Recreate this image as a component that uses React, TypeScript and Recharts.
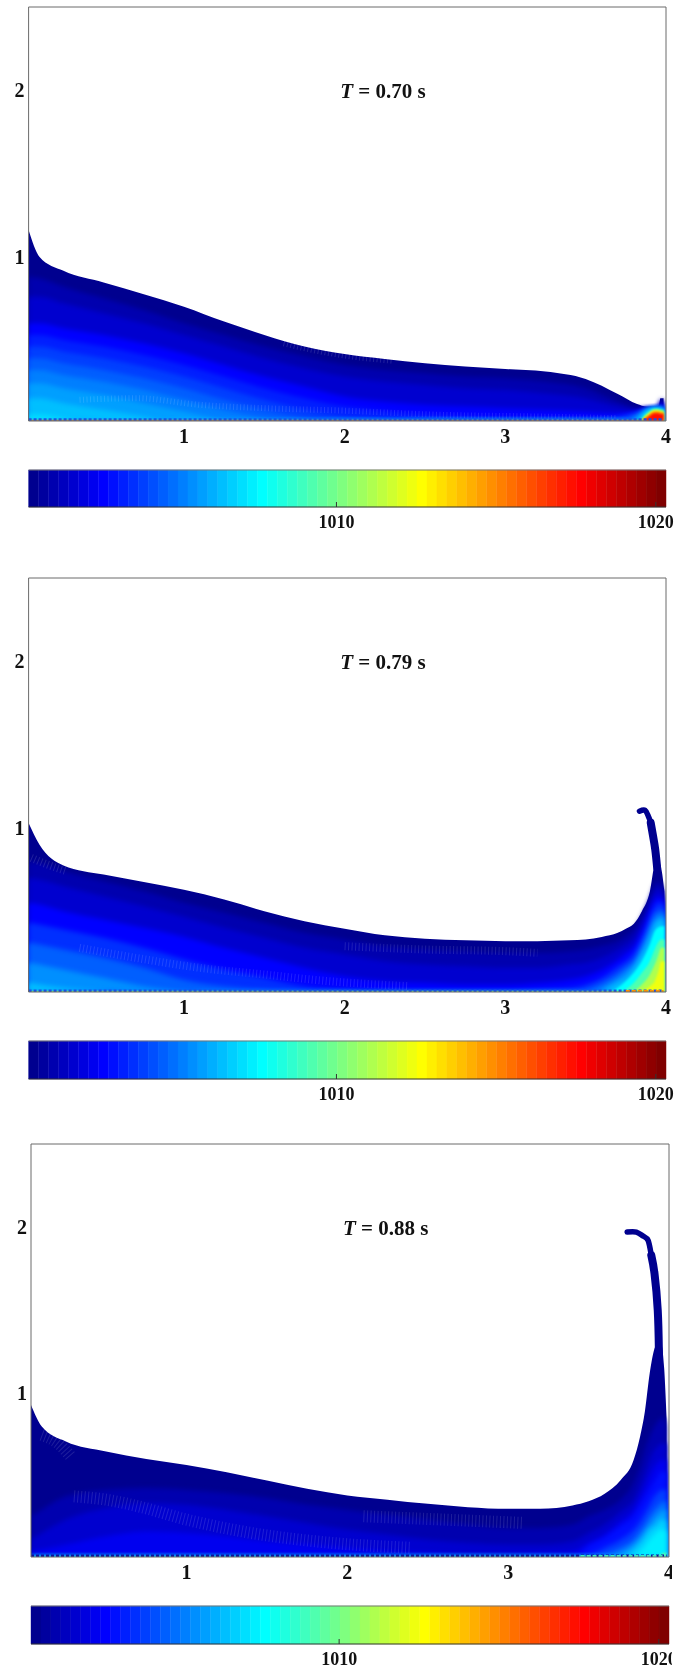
import React from 'react'
import {
  BarChart,
  Bar,
  Cell,
  ComposedChart,
  Area,
  Line,
  XAxis,
  YAxis,
  ReferenceDot,
} from 'recharts'

// jet(64) palette, one colour per colourbar band
const jetColors = [
  '#00008F', '#00009F', '#0000AF', '#0000BF', '#0000CF', '#0000DF', '#0000EF', '#0000FF',
  '#000FFF', '#001FFF', '#002FFF', '#003FFF', '#004FFF', '#005FFF', '#006FFF', '#007FFF',
  '#008FFF', '#009FFF', '#00AFFF', '#00BFFF', '#00CFFF', '#00DFFF', '#00EFFF', '#00FFFF',
  '#0FFFEF', '#1FFFDF', '#2FFFCF', '#3FFFBF', '#4FFFAF', '#5FFF9F', '#6FFF8F', '#7FFF7F',
  '#8FFF6F', '#9FFF5F', '#AFFF4F', '#BFFF3F', '#CFFF2F', '#DFFF1F', '#EFFF0F', '#FFFF00',
  '#FFEF00', '#FFDF00', '#FFCF00', '#FFBF00', '#FFAF00', '#FF9F00', '#FF8F00', '#FF7F00',
  '#FF6F00', '#FF5F00', '#FF4F00', '#FF3F00', '#FF2F00', '#FF1F00', '#FF0F00', '#FF0000',
  '#EF0000', '#DF0000', '#CF0000', '#BF0000', '#AF0000', '#9F0000', '#8F0000', '#800000',
]
const barDomain = [1000.36, 1020.32]
const barTicks = [1010, 1020]
const xTicks = [1, 2, 3, 4]
const xMinorTicks = [0.5, 1, 1.5, 2, 2.5, 3, 3.5]
const yTicks = [1, 2]
const yMinorTicks = [0.5, 1, 1.5, 2]

// T = 0.70 s
const xA = [0.033, 0.1, 0.25, 0.5, 0.75, 1, 1.25, 1.5, 1.75, 2, 2.25, 2.5, 2.75, 3, 3.25, 3.5, 3.7, 3.82, 3.88, 3.93, 3.955, 3.965, 3.985]
const topA = [1.16, 1.0, 0.915, 0.845, 0.775, 0.7, 0.61, 0.53, 0.46, 0.415, 0.385, 0.36, 0.34, 0.325, 0.31, 0.265, 0.175, 0.115, 0.1, 0.1, 0.105, 0.15, 0.15]
const levelsA: [number, number[]][] = [
  [2, [0.88, 0.87, 0.82, 0.75, 0.68, 0.6, 0.53, 0.46, 0.4, 0.35, 0.32, 0.3, 0.28, 0.27, 0.25, 0.21, 0.13, 0.09, 0.09, 0.09, 0.1, 0.14, 0.14]],
  [4, [0.76, 0.76, 0.72, 0.66, 0.6, 0.53, 0.46, 0.39, 0.33, 0.28, 0.25, 0.23, 0.21, 0.2, 0.18, 0.15, 0.1, 0.08, 0.09, 0.09, 0.1, 0.13, 0.13]],
  [7, [0.6, 0.6, 0.57, 0.53, 0.48, 0.42, 0.35, 0.28, 0.22, 0.16, 0.13, 0.11, 0.1, 0.09, 0.08, 0.07, 0.06, 0.07, 0.085, 0.09, 0.095, 0.11, 0.11]],
  [9, [0.53, 0.53, 0.5, 0.46, 0.41, 0.35, 0.28, 0.21, 0.15, 0.1, 0.07, 0.05, 0.04, 0.03, 0.03, 0.03, 0.04, 0.065, 0.085, 0.09, 0.09, 0.1, 0.1]],
  [11, [0.46, 0.46, 0.43, 0.39, 0.34, 0.28, 0.21, 0.14, 0.08, 0.04, 0.02, 0, 0, 0, 0, 0.01, 0.03, 0.06, 0.08, 0.09, 0.09, 0.09, 0.09]],
  [13, [0.39, 0.39, 0.36, 0.32, 0.27, 0.21, 0.14, 0.08, 0.03, 0, 0, 0, 0, 0, 0, 0, 0.01, 0.05, 0.08, 0.09, 0.09, 0.09, 0.09]],
  [15, [0.32, 0.32, 0.29, 0.25, 0.2, 0.14, 0.08, 0.03, 0, 0, 0, 0, 0, 0, 0, 0, 0, 0.04, 0.08, 0.09, 0.09, 0.09, 0.09]],
  [17, [0.24, 0.24, 0.21, 0.17, 0.12, 0.07, 0.02, 0, 0, 0, 0, 0, 0, 0, 0, 0, 0, 0.03, 0.075, 0.09, 0.09, 0.085, 0.085]],
  [19, [0.15, 0.15, 0.12, 0.08, 0.04, 0, 0, 0, 0, 0, 0, 0, 0, 0, 0, 0, 0, 0.02, 0.07, 0.085, 0.085, 0.08, 0.08]],
  [21, [0.05, 0.05, 0.03, 0, 0, 0, 0, 0, 0, 0, 0, 0, 0, 0, 0, 0, 0, 0.01, 0.065, 0.085, 0.085, 0.08, 0.08]],
  [26, [0, 0, 0, 0, 0, 0, 0, 0, 0, 0, 0, 0, 0, 0, 0, 0, 0, 0, 0.06, 0.085, 0.085, 0.08, 0.08]],
  [38, [0, 0, 0, 0, 0, 0, 0, 0, 0, 0, 0, 0, 0, 0, 0, 0, 0, 0, 0.05, 0.08, 0.08, 0.075, 0.075]],
  [46, [0, 0, 0, 0, 0, 0, 0, 0, 0, 0, 0, 0, 0, 0, 0, 0, 0, 0, 0.04, 0.07, 0.07, 0.065, 0.065]],
  [54, [0, 0, 0, 0, 0, 0, 0, 0, 0, 0, 0, 0, 0, 0, 0, 0, 0, 0, 0.03, 0.06, 0.06, 0.055, 0.055]],
]
const moireA = [
  [[0.35, 0.14], [0.7, 0.15], [1.1, 0.11], [1.5, 0.09], [2, 0.075], [2.6, 0.05], [3.2, 0.04], [3.7, 0.03]],
  [[1.62, 0.48], [1.8, 0.44], [2.05, 0.4], [2.3, 0.375]],
]

// T = 0.79 s
const xB = [0.033, 0.1, 0.25, 0.5, 0.75, 1, 1.25, 1.5, 1.75, 2, 2.25, 2.5, 2.75, 3, 3.2, 3.4, 3.5, 3.6, 3.7, 3.75, 3.8, 3.85, 3.9, 3.93, 3.95, 3.97, 3.99]
const topB = [1.03, 0.9, 0.775, 0.72, 0.675, 0.628, 0.57, 0.5, 0.44, 0.395, 0.355, 0.335, 0.325, 0.32, 0.32, 0.325, 0.33, 0.345, 0.37, 0.395, 0.425, 0.5, 0.62, 0.78, 0.8, 0.76, 0.62]
const levelsB: [number, number[]][] = [
  [2, [0.8, 0.79, 0.74, 0.68, 0.62, 0.55, 0.49, 0.43, 0.37, 0.33, 0.29, 0.27, 0.26, 0.25, 0.25, 0.26, 0.27, 0.29, 0.32, 0.35, 0.39, 0.47, 0.58, 0.66, 0.68, 0.66, 0.6]],
  [4, [0.7, 0.69, 0.65, 0.59, 0.53, 0.467, 0.4, 0.34, 0.28, 0.24, 0.2, 0.18, 0.17, 0.16, 0.16, 0.18, 0.19, 0.22, 0.27, 0.3, 0.34, 0.43, 0.54, 0.62, 0.64, 0.63, 0.58]],
  [7, [0.55, 0.54, 0.5, 0.45, 0.4, 0.347, 0.28, 0.22, 0.16, 0.11, 0.08, 0.07, 0.06, 0.06, 0.07, 0.09, 0.11, 0.15, 0.21, 0.25, 0.29, 0.38, 0.5, 0.57, 0.59, 0.58, 0.56]],
  [10, [0.43, 0.42, 0.39, 0.34, 0.28, 0.21, 0.15, 0.1, 0.05, 0.03, 0.02, 0.02, 0.02, 0.02, 0.03, 0.04, 0.06, 0.1, 0.17, 0.2, 0.25, 0.34, 0.46, 0.53, 0.55, 0.55, 0.54]],
  [13, [0.31, 0.3, 0.27, 0.22, 0.16, 0.087, 0.05, 0.03, 0.02, 0, 0, 0, 0, 0, 0, 0.01, 0.03, 0.07, 0.13, 0.17, 0.21, 0.3, 0.42, 0.49, 0.5, 0.51, 0.51]],
  [16, [0.19, 0.18, 0.15, 0.1, 0.05, 0.02, 0, 0, 0, 0, 0, 0, 0, 0, 0, 0, 0.01, 0.04, 0.1, 0.14, 0.18, 0.27, 0.38, 0.45, 0.47, 0.48, 0.48]],
  [19, [0.07, 0.06, 0.04, 0.02, 0, 0, 0, 0, 0, 0, 0, 0, 0, 0, 0, 0, 0, 0.02, 0.07, 0.1, 0.16, 0.24, 0.34, 0.42, 0.44, 0.45, 0.45]],
  [23, [0, 0, 0, 0, 0, 0, 0, 0, 0, 0, 0, 0, 0, 0, 0, 0, 0, 0, 0.04, 0.08, 0.13, 0.2, 0.3, 0.38, 0.4, 0.41, 0.41]],
  [28, [0, 0, 0, 0, 0, 0, 0, 0, 0, 0, 0, 0, 0, 0, 0, 0, 0, 0, 0, 0.03, 0.07, 0.13, 0.2, 0.27, 0.31, 0.33, 0.33]],
  [34, [0, 0, 0, 0, 0, 0, 0, 0, 0, 0, 0, 0, 0, 0, 0, 0, 0, 0, 0, 0, 0.02, 0.06, 0.12, 0.18, 0.23, 0.28, 0.28]],
  [38, [0, 0, 0, 0, 0, 0, 0, 0, 0, 0, 0, 0, 0, 0, 0, 0, 0, 0, 0, 0, 0, 0.02, 0.05, 0.08, 0.13, 0.2, 0.2]],
]
const hookB = [[3.835, 1.1], [3.87, 1.105], [3.89, 1.07], [3.905, 1.03], [3.92, 0.948]]
const stemB = [[3.905, 1.03], [3.92, 0.948], [3.933, 0.87], [3.945, 0.76]]
const moireB = [
  [[0.35, 0.28], [0.7, 0.22], [1.1, 0.16], [1.5, 0.12], [1.9, 0.08], [2.4, 0.05]],
  [[0.05, 0.82], [0.15, 0.78], [0.27, 0.74]],
  [[2, 0.29], [2.5, 0.27], [3, 0.26], [3.2, 0.25]],
]

// T = 0.88 s
const xC = [0.033, 0.1, 0.25, 0.5, 0.75, 1, 1.25, 1.5, 1.75, 2, 2.25, 2.5, 2.75, 3, 3.2, 3.4, 3.5, 3.6, 3.7, 3.78, 3.82, 3.85, 3.88, 3.91, 3.93, 3.95, 3.97, 3.985]
const topC = [0.93, 0.8, 0.71, 0.65, 0.605, 0.568, 0.525, 0.475, 0.425, 0.385, 0.36, 0.335, 0.315, 0.305, 0.305, 0.325, 0.35, 0.395, 0.478, 0.598, 0.738, 0.89, 1.12, 1.27, 1.3, 1.3, 1.15, 0.85]
const levelsC: [number, number[]][] = [
  [2, [0.26, 0.3, 0.38, 0.42, 0.43, 0.42, 0.4, 0.37, 0.33, 0.3, 0.27, 0.24, 0.21, 0.19, 0.19, 0.21, 0.26, 0.3, 0.36, 0.46, 0.56, 0.66, 0.74, 0.8, 0.83, 0.85, 0.85, 0.8]],
  [4, [0.12, 0.16, 0.24, 0.31, 0.34, 0.33, 0.3, 0.26, 0.22, 0.18, 0.15, 0.12, 0.1, 0.09, 0.09, 0.11, 0.16, 0.21, 0.29, 0.36, 0.44, 0.52, 0.6, 0.66, 0.68, 0.7, 0.7, 0.7]],
  [6, [0.05, 0.06, 0.09, 0.14, 0.17, 0.16, 0.14, 0.11, 0.09, 0.07, 0.05, 0.04, 0.03, 0.03, 0.04, 0.05, 0.1, 0.15, 0.23, 0.3, 0.37, 0.43, 0.5, 0.56, 0.58, 0.6, 0.6, 0.6]],
  [8, [0, 0, 0, 0.02, 0.03, 0.03, 0.02, 0, 0, 0, 0, 0, 0, 0, 0, 0, 0.08, 0.13, 0.2, 0.26, 0.32, 0.37, 0.42, 0.47, 0.5, 0.53, 0.53, 0.53]],
  [11, [0, 0, 0, 0, 0, 0, 0, 0, 0, 0, 0, 0, 0, 0, 0, 0, 0.02, 0.07, 0.12, 0.18, 0.23, 0.28, 0.33, 0.38, 0.4, 0.42, 0.42, 0.42]],
  [14, [0, 0, 0, 0, 0, 0, 0, 0, 0, 0, 0, 0, 0, 0, 0, 0, 0, 0.03, 0.07, 0.12, 0.17, 0.21, 0.26, 0.3, 0.32, 0.34, 0.35, 0.35]],
  [17, [0, 0, 0, 0, 0, 0, 0, 0, 0, 0, 0, 0, 0, 0, 0, 0, 0, 0, 0.04, 0.09, 0.13, 0.17, 0.21, 0.25, 0.27, 0.29, 0.3, 0.3]],
  [20, [0, 0, 0, 0, 0, 0, 0, 0, 0, 0, 0, 0, 0, 0, 0, 0, 0, 0, 0.01, 0.06, 0.1, 0.14, 0.18, 0.2, 0.22, 0.24, 0.24, 0.22]],
  [22, [0, 0, 0, 0, 0, 0, 0, 0, 0, 0, 0, 0, 0, 0, 0, 0, 0, 0, 0, 0.02, 0.05, 0.08, 0.12, 0.15, 0.17, 0.18, 0.18, 0.16]],
  [28, [0, 0, 0, 0, 0, 0, 0, 0, 0, 0, 0, 0, 0, 0, 0, 0, 0, 0, 0, 0, 0, 0, 0, 0, 0.02, 0.03, 0.04, 0.04]],
]
const hookC = [[3.74, 1.97], [3.797, 1.97], [3.84, 1.945], [3.87, 1.92], [3.89, 1.83], [3.91, 1.72]]
const stemC = [[3.89, 1.83], [3.91, 1.72], [3.93, 1.5], [3.937, 1.26], [3.94, 1.06]]
const moireC = [
  [[0.3, 0.38], [0.5, 0.36], [0.7, 0.32], [1, 0.24], [1.4, 0.16], [1.9, 0.1], [2.4, 0.07]],
  [[0.1, 0.75], [0.2, 0.7], [0.28, 0.62]],
  [[2.1, 0.26], [2.6, 0.24], [3.1, 0.22]],
]

const serif = '"Liberation Serif", "Times New Roman", serif'
const frameColor = '#6a6a6a'

function toPoints(pairs: number[][]) {
  return pairs.map(([x, y]) => ({ x, y }))
}

function PressureField({ title, xs, top, levels, hook, stem, moire, bedHot, bedColor, geo }: any) {
  const table = xs.map((x: number, i: number) => {
    const row: any = { x, top: top[i] }
    levels.forEach(([idx, values]: [number, number[]]) => {
      row['l' + idx] = values[i]
    })
    return row
  })
  const xDomain = [geo.xMin, 4]
  const yDomain = [geo.yMin, 2.5]
  return (
    <ComposedChart
      width={geo.clip}
      height={geo.bottom - geo.top + 37}
      data={table}
      margin={{ top: 0, right: geo.clip - 1 - geo.right, bottom: 0, left: 0 }}
    >
      <XAxis
        dataKey="x"
        type="number"
        domain={xDomain}
        ticks={xTicks}
        interval={0}
        allowDataOverflow
        height={36}
        tickLine={false}
        tickSize={0}
        tickMargin={8}
        stroke={frameColor}
        tick={{ fontFamily: serif, fontWeight: 700, fontSize: 20, fill: '#111' }}
      />
      <XAxis
        xAxisId="top"
        orientation="top"
        dataKey="x"
        type="number"
        domain={xDomain}
        ticks={xMinorTicks}
        interval={0}
        allowDataOverflow
        height={1}
        tick={false}
        tickSize={-5}
        stroke={frameColor}
      />
      <YAxis
        type="number"
        domain={yDomain}
        ticks={yTicks}
        interval={0}
        allowDataOverflow
        width={geo.left}
        tickLine={false}
        tickSize={0}
        tickMargin={4}
        stroke={frameColor}
        tick={{ fontFamily: serif, fontWeight: 700, fontSize: 20, fill: '#111' }}
      />
      <YAxis
        yAxisId="right"
        orientation="right"
        type="number"
        domain={yDomain}
        ticks={yMinorTicks}
        interval={0}
        allowDataOverflow
        width={1}
        tick={false}
        tickSize={-6}
        stroke={frameColor}
      />
      <Area dataKey="top" type="monotone" fill={jetColors[0]} fillOpacity={1} stroke="none" dot={false} activeDot={false} isAnimationActive={false} />
      {levels.map(([idx]: [number, number[]]) => (
        <Area
          key={idx}
          dataKey={'l' + idx}
          type="monotone"
          fill={jetColors[idx]}
          fillOpacity={1}
          stroke="none"
          style={{ filter: idx >= 23 ? 'blur(1.2px)' : 'blur(2.5px)' }}
          dot={false}
          activeDot={false}
          isAnimationActive={false}
        />
      ))}
      {moire.map((m: number[][], i: number) => (
        <Line
          key={'m' + i}
          data={toPoints(m)}
          dataKey="y"
          type="monotone"
          stroke="#ffffff"
          strokeOpacity={0.12}
          strokeWidth={geo.moireWidth}
          strokeDasharray="1 2.5"
          dot={false}
          activeDot={false}
          isAnimationActive={false}
        />
      ))}
      <Line
        data={toPoints([[geo.xMin, 0.022], [3.985, 0.022]])}
        dataKey="y"
        stroke={bedColor}
        strokeWidth={2.5}
        strokeDasharray="3 2"
        dot={false}
        activeDot={false}
        isAnimationActive={false}
      />
      {bedHot && (
        <Line
          data={toPoints(bedHot.points)}
          dataKey="y"
          stroke={bedHot.color}
          strokeWidth={2.5}
          strokeDasharray="4 2"
          dot={false}
          activeDot={false}
          isAnimationActive={false}
        />
      )}
      {stem && (
        <Line data={toPoints(stem)} dataKey="y" type="natural" stroke={jetColors[0]} strokeWidth={8} strokeLinecap="round" strokeLinejoin="round" dot={false} activeDot={false} isAnimationActive={false} />
      )}
      {hook && (
        <Line data={toPoints(hook)} dataKey="y" type="natural" stroke={jetColors[0]} strokeWidth={geo.hookWidth} strokeLinecap="round" strokeLinejoin="round" dot={false} activeDot={false} isAnimationActive={false} />
      )}
      <ReferenceDot
        x={2.238}
        y={2}
        r={0}
        fill="none"
        stroke="none"
        label={(props: any) => (
          <text
            x={props.viewBox.x}
            y={props.viewBox.y + 8}
            textAnchor="middle"
            fontFamily={serif}
            fontWeight={700}
            fontSize={21}
            fill="#111"
          >
            <tspan fontStyle="italic">T</tspan> = {title} s
          </text>
        )}
      />
    </ComposedChart>
  )
}

function BarLabel({ x, y, payload }: any) {
  return (
    <text x={x} y={y + 24} textAnchor="middle" fontFamily={serif} fontWeight={700} fontSize={18} fill="#111">
      {payload.value}
    </text>
  )
}

function ColourBar({ geo }: any) {
  const step = (barDomain[1] - barDomain[0]) / jetColors.length
  const bands = jetColors.map((color, i) => ({ band: i, rho: barDomain[0] + (i + 0.5) * step, value: 1, color }))
  return (
    <BarChart
      width={geo.clip}
      height={geo.barBottom - geo.barTop + 41}
      data={bands}
      barCategoryGap={0}
      margin={{ top: 0, right: geo.clip - geo.right, bottom: 0, left: geo.left }}
    >
      <XAxis
        xAxisId="rho"
        dataKey="rho"
        type="number"
        domain={barDomain}
        ticks={barTicks}
        interval={0}
        allowDataOverflow
        height={40}
        tickSize={-5}
        stroke="#333"
        tick={<BarLabel />}
      />
      <XAxis dataKey="band" hide height={0} />
      <XAxis
        xAxisId="rhoTop"
        dataKey="rho"
        orientation="top"
        type="number"
        domain={barDomain}
        ticks={barTicks}
        interval={0}
        allowDataOverflow
        height={1}
        tick={false}
        tickSize={-5}
        stroke="#777"
      />
      <YAxis domain={[0, 1]} hide />
      <Bar dataKey="value" isAnimationActive={false} activeBar={false}>
        {bands.map((b) => (
          <Cell key={b.band} fill={b.color} stroke={b.color} strokeWidth={0.4} />
        ))}
      </Bar>
    </BarChart>
  )
}

const geoA = { left: 28.6, right: 666, clip: 682, top: 7, bottom: 421, xMin: 0.033, yMin: 0.013, barTop: 470, barBottom: 507, hookWidth: 5, moireWidth: 6 }
const geoB = { left: 28.6, right: 666, clip: 682, top: 578, bottom: 992, xMin: 0.033, yMin: 0.015, barTop: 1041, barBottom: 1079, hookWidth: 5.5, moireWidth: 8 }
const geoC = { left: 31, right: 669, clip: 672, top: 1144, bottom: 1557, xMin: 0.033, yMin: 0.015, barTop: 1606, barBottom: 1644, hookWidth: 5.5, moireWidth: 12 }

const panels = [
  { title: '0.70', xs: xA, top: topA, levels: levelsA, moire: moireA, geo: geoA, bedColor: '#1f4fe0' },
  {
    title: '0.79',
    xs: xB,
    top: topB,
    levels: levelsB,
    hook: hookB,
    stem: stemB,
    moire: moireB,
    geo: geoB,
    bedColor: '#1f4fe0',
    bedHot: { color: '#ff9000', points: [[3.75, 0.02], [3.985, 0.02]] },
  },
  {
    title: '0.88',
    xs: xC,
    top: topC,
    levels: levelsC,
    hook: hookC,
    stem: stemC,
    moire: moireC,
    geo: geoC,
    bedColor: '#10109f',
    bedHot: { color: '#40e8c0', points: [[3.45, 0.02], [3.98, 0.02]] },
  },
]

export default function App() {
  return (
    <div style={{ position: 'absolute', left: 0, top: 0, width: 690, height: 1669, background: '#fff', overflow: 'hidden' }}>
      {panels.map((p) => (
        <React.Fragment key={p.title}>
          <div style={{ position: 'absolute', left: 0, top: p.geo.top - 1, width: p.geo.clip, overflow: 'hidden', filter: 'blur(0.4px)' }}>
            <PressureField {...p} />
          </div>
          <div style={{ position: 'absolute', left: 0, top: p.geo.barTop - 1, width: p.geo.clip, overflow: 'hidden', filter: 'blur(0.4px)' }}>
            <ColourBar geo={p.geo} />
          </div>
        </React.Fragment>
      ))}
    </div>
  )
}
